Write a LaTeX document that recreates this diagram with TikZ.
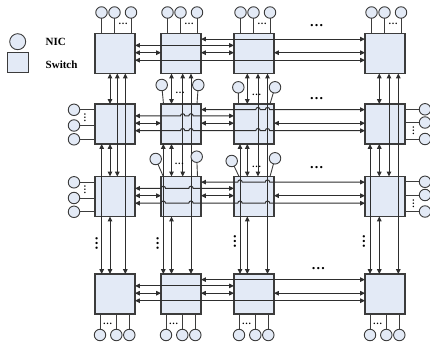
\documentclass[tikz,border=0pt]{standalone}
\usepackage{fontspec}
\setmainfont{Liberation Serif}
\usetikzlibrary{arrows.meta,calc}
\definecolor{boxc}{HTML}{E3EAF6}
\definecolor{edgec}{HTML}{3C3C3C}
\definecolor{linec}{HTML}{2E2E2E}
\begin{document}
\begin{tikzpicture}[x=1pt,y=1pt,
  sw/.style={draw=edgec,fill=boxc,line width=1.2pt,minimum width=40pt,minimum height=40pt,inner sep=0pt,outer sep=0pt},
  nic/.style={circle,draw=edgec,fill=boxc,line width=0.9pt,minimum size=11.5pt,inner sep=0pt,outer sep=0pt},
  link/.style={draw=linec,line width=1pt},
  bi/.style={link,{Triangle[length=4.8pt,width=4.4pt]}-{Triangle[length=4.8pt,width=4.4pt]}},
  nicl/.style={draw=edgec,line width=0.9pt},
  sdots/.style={font=\bfseries\fontsize{9.5}{9.5}\selectfont,inner sep=0pt},
  bdots/.style={font=\bfseries\fontsize{14}{14}\selectfont,inner sep=0pt},
  legtext/.style={font=\bfseries\fontsize{11}{11}\selectfont,inner sep=0pt,anchor=west}]
\useasboundingbox (0,0) rectangle (430,-344);

% switches
\foreach \c/\x in {1/115,2/181,3/254,4/385}
  \foreach \r/\y in {1/53.5,2/124,3/196.5,4/294}
    \node[sw] (s\r\c) at (\x,-\y) {};

% vertical links
\foreach \c/\oa/\ob/\oc/\od in {1/6.7/15/22.3/30.3,2/2.3/10.5/21.7/30,3/6/13.3/24/33.5,4/5/14.3/24/33.3}{
  \coordinate (va\c) at ([xshift=\oa pt]s1\c.north west);
  \coordinate (vb\c) at ([xshift=\ob pt]s1\c.north west);
  \coordinate (vc\c) at ([xshift=\oc pt]s1\c.north west);
  \coordinate (vd\c) at ([xshift=\od pt]s1\c.north west);
  \draw[bi] (s2\c.south -| va\c) -- (s4\c.north -| va\c);
  \draw[bi] (s1\c.south -| vb\c) -- (s2\c.north -| vb\c);
  \draw[bi] (s2\c.south -| vb\c) -- (s3\c.north -| vb\c);
  \draw[bi] (s3\c.south -| vb\c) -- (s4\c.north -| vb\c);
  \draw[bi] (s1\c.south -| vc\c) -- (s3\c.north -| vc\c);
  \draw[bi] (s1\c.south -| vd\c) -- (s4\c.north -| vd\c);
}

% horizontal links
\foreach \r in {1,2,3,4}{
  \coordinate (ha\r) at ([yshift=-5.6pt]s\r1.north east);
  \coordinate (hb\r) at ([yshift=-11.9pt]s\r1.north east);
  \coordinate (hc\r) at ([yshift=-19.2pt]s\r1.north east);
  \coordinate (hd\r) at ([yshift=-26.7pt]s\r1.north east);
  \draw[bi] (s\r1.east |- hc\r) -- (s\r2.west |- hc\r);
  \draw[bi] (s\r2.east |- hc\r) -- (s\r3.west |- hc\r);
  \draw[bi] (s\r3.east |- hc\r) -- (s\r4.west |- hc\r);
}
\foreach \r in {1,4}{
  \draw[bi] (s\r2.east |- ha\r) -- (s\r4.west |- ha\r);
  \draw[bi] (s\r1.east |- hb\r) -- (s\r3.west |- hb\r);
  \draw[bi] (s\r1.east |- hd\r) -- (s\r4.west |- hd\r);
}
\foreach \r/\p in {2/c,3/a}{
  \draw[bi] (s\r2.east |- ha\r)
    -- ($(v\p3 |- ha\r)+(-2.2,0)$) arc[start angle=180,end angle=0,radius=2.2pt]
    -- ($(vd3 |- ha\r)+(-2.2,0)$) arc[start angle=180,end angle=0,radius=2.2pt]
    -- (s\r4.west |- ha\r);
  \draw[bi] (s\r1.east |- hb\r)
    -- ($(v\p2 |- hb\r)+(-2.2,0)$) arc[start angle=180,end angle=0,radius=2.2pt]
    -- ($(vd2 |- hb\r)+(-2.2,0)$) arc[start angle=180,end angle=0,radius=2.2pt]
    -- (s\r3.west |- hb\r);
  \draw[bi] (s\r1.east |- hd\r)
    -- ($(v\p2 |- hd\r)+(-2.2,0)$) arc[start angle=180,end angle=0,radius=2.2pt]
    -- ($(vd2 |- hd\r)+(-2.2,0)$) arc[start angle=180,end angle=0,radius=2.2pt]
    -- ($(v\p3 |- hd\r)+(-2.2,0)$) arc[start angle=180,end angle=0,radius=2.2pt]
    -- ($(vd3 |- hd\r)+(-2.2,0)$) arc[start angle=180,end angle=0,radius=2.2pt]
    -- (s\r4.west |- hd\r);
}

% top NICs
\foreach \c in {1,2,3,4}{
  \node[nic] (nt\c-1) at ([shift={(6.5,21)}]s1\c.north west) {};
  \node[nic] (nt\c-2) at ([shift={(19.5,21)}]s1\c.north west) {};
  \node[nic] (nt\c-3) at ([shift={(36,21)}]s1\c.north west) {};
  \foreach \k in {1,2,3} \draw[nicl] (nt\c-\k.south) -- (nt\c-\k.south |- s1\c.north);
  \node[sdots] at ([shift={(28,9.5)}]s1\c.north west) {…};
}
% bottom NICs
\foreach \c in {1,2,3,4}{
  \node[nic] (nb\c-1) at ([shift={(5,-21)}]s4\c.south west) {};
  \node[nic] (nb\c-2) at ([shift={(21.3,-21)}]s4\c.south west) {};
  \node[nic] (nb\c-3) at ([shift={(34.3,-21)}]s4\c.south west) {};
  \foreach \k in {1,2,3} \draw[nicl] (nb\c-\k.north) -- (nb\c-\k.north |- s4\c.south);
  \node[sdots] at ([shift={(12.5,-10.3)}]s4\c.south west) {…};
}
% left NICs
\foreach \r in {2,3}{
  \node[nic] (nl\r-1) at ([shift={(-21,-5.8)}]s\r1.north west) {};
  \node[nic] (nl\r-2) at ([shift={(-21,-21.5)}]s\r1.north west) {};
  \node[nic] (nl\r-3) at ([shift={(-21,-35.3)}]s\r1.north west) {};
  \foreach \k in {1,2,3} \draw[nicl] (nl\r-\k.east) -- (nl\r-\k.east -| s\r1.west);
  \node[sdots,rotate=90] at ([shift={(-10,-13.5)}]s\r1.north west) {…};
}
% right NICs
\foreach \r in {2,3}{
  \node[nic] (nr\r-1) at ([shift={(20,-5.3)}]s\r4.north east) {};
  \node[nic] (nr\r-2) at ([shift={(20,-18.5)}]s\r4.north east) {};
  \node[nic] (nr\r-3) at ([shift={(20,-35)}]s\r4.north east) {};
  \foreach \k in {1,2,3} \draw[nicl] (nr\r-\k.west) -- (nr\r-\k.west -| s\r4.east);
  \node[sdots,rotate=90] at ([shift={(8.5,-27)}]s\r4.north east) {…};
}
% interior NICs
\foreach \b/\lx/\ly/\rx/\ry/\le/\re/\dx/\dy in {22/0.7/19/-2.7/19/2.5/-4/19/10.7,
    23/4.3/16.7/1/16.7/4.5/-4/22.7/9, 32/-5.3/17.5/-4.3/19.8/2.3/-3.5/18.3/12.2,
    33/-2.3/15.5/1/18.2/5/-4/22.7/9.8}{
  \node[nic] (ni\b-1) at ([shift={(\lx,\ly)}]s\b.north west) {};
  \node[nic] (ni\b-2) at ([shift={(\rx,\ry)}]s\b.north east) {};
  \coordinate (ne\b-1) at ([xshift=\le pt]s\b.north west);
  \coordinate (ne\b-2) at ([xshift=\re pt]s\b.north east);
  \draw[nicl] (ni\b-1) -- (ne\b-1);
  \draw[nicl] (ni\b-2) -- (ne\b-2);
  \node[sdots] at ([shift={(\dx,\dy)}]s\b.north west) {…};
}

% ellipses between columns and rows
\foreach \x/\y in {316.7/25.7,316.7/98.3,316.7/168,318.3/268.7}
  \node[bdots] at (\x,-\y) {…};
\foreach \x/\y in {96.7/244,157.7/244,235/241,364/241}
  \node[bdots,rotate=90] at (\x,-\y) {…};

% legend
\node[nic,minimum size=16pt] (lnic) at (17.7,-41.7) {};
\node[sw,minimum width=21pt,minimum height=20pt,line width=1pt] (lsw) at (18.3,-62.7) {};
\node[legtext] (lnict) at (45.5,-41.7) {NIC};
\node[legtext] (lswt) at (45.5,-64.5) {Switch};
\end{tikzpicture}
\end{document}
